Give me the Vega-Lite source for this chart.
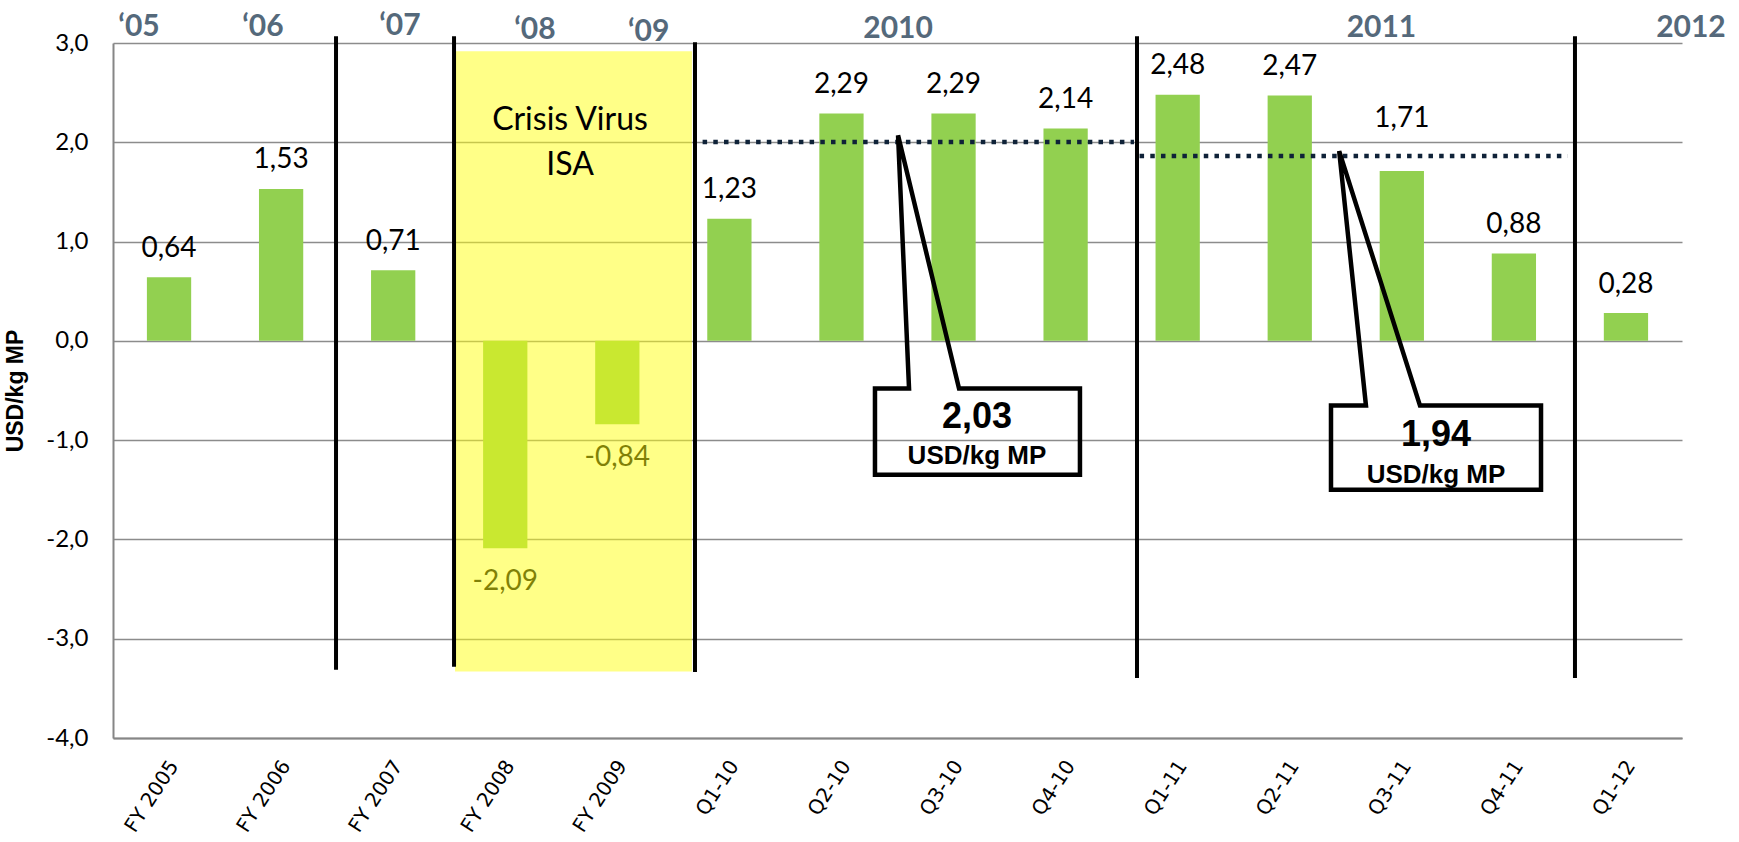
{
  "$schema": "https://vega.github.io/schema/vega-lite/v6.json",
  "width": 1569,
  "height": 695,
  "autosize": {"type": "none"},
  "padding": {"left": 113, "top": 43, "right": 57, "bottom": 104},
  "background": "white",
  "config": {
    "view": {"stroke": null},
    "locale": {"number": {"decimal": ",", "thousands": ".", "grouping": [3], "currency": ["", " €"], "minus": "-"}}
  },
  "datasets": {
    "bars": [
      {"cat": "FY 2005", "val": 0.64},
      {"cat": "FY 2006", "val": 1.53},
      {"cat": "FY 2007", "val": 0.71},
      {"cat": "FY 2008", "val": -2.09},
      {"cat": "FY 2009", "val": -0.84},
      {"cat": "Q1-10", "val": 1.23},
      {"cat": "Q2-10", "val": 2.29},
      {"cat": "Q3-10", "val": 2.29},
      {"cat": "Q4-10", "val": 2.14},
      {"cat": "Q1-11", "val": 2.48},
      {"cat": "Q2-11", "val": 2.47},
      {"cat": "Q3-11", "val": 1.71},
      {"cat": "Q4-11", "val": 0.88},
      {"cat": "Q1-12", "val": 0.28}
    ],
    "crisis": [{"u1": 3.052, "u2": 5.166, "v1": 2.916, "v2": -3.331}],
    "vlines": [
      {"u": 1.990, "v1": 3.068, "v2": -3.313},
      {"u": 3.043, "v1": 3.068, "v2": -3.283},
      {"u": 5.193, "v1": 3.007, "v2": -3.334},
      {"u": 9.137, "v1": 3.068, "v2": -3.395},
      {"u": 13.045, "v1": 3.068, "v2": -3.395}
    ],
    "avgs": [
      {"u1": 5.261, "u2": 9.110, "v": 2.002},
      {"u1": 9.160, "u2": 12.98, "v": 1.861}
    ],
    "callouts": [
      {"id": "a", "o": 0, "u": 7.7, "v": -1.348},
      {"id": "a", "o": 1, "u": 6.799, "v": -1.348},
      {"id": "a", "o": 2, "u": 6.799, "v": -0.481},
      {"id": "a", "o": 3, "u": 7.103, "v": -0.481},
      {"id": "a", "o": 4, "u": 7.005, "v": 2.07},
      {"id": "a", "o": 5, "u": 7.549, "v": -0.481},
      {"id": "a", "o": 6, "u": 8.628, "v": -0.481},
      {"id": "a", "o": 7, "u": 8.628, "v": -1.348},
      {"id": "a", "o": 8, "u": 7.7, "v": -1.348},
      {"id": "b", "o": 0, "u": 11.8, "v": -1.499},
      {"id": "b", "o": 1, "u": 10.868, "v": -1.499},
      {"id": "b", "o": 2, "u": 10.868, "v": -0.652},
      {"id": "b", "o": 3, "u": 11.18, "v": -0.652},
      {"id": "b", "o": 4, "u": 10.941, "v": 1.911},
      {"id": "b", "o": 5, "u": 11.662, "v": -0.652},
      {"id": "b", "o": 6, "u": 12.742, "v": -0.652},
      {"id": "b", "o": 7, "u": 12.742, "v": -1.499},
      {"id": "b", "o": 8, "u": 11.8, "v": -1.499}
    ],
    "callnum": [
      {"u": 7.709, "v": -0.874, "t": "2,03"},
      {"u": 11.805, "v": -1.055, "t": "1,94"}
    ],
    "callunit": [
      {"u": 7.709, "v": -1.236, "t": "USD/kg MP"},
      {"u": 11.805, "v": -1.428, "t": "USD/kg MP"}
    ],
    "crisistext": [
      {"u": 4.078, "v": 2.12, "t": "Crisis Virus"},
      {"u": 4.078, "v": 1.666, "t": "ISA"}
    ],
    "years": [
      {"u": 0.232, "v": 3.068, "t": "‘05"},
      {"u": 1.338, "v": 3.068, "t": "‘06"},
      {"u": 2.56, "v": 3.078, "t": "‘07"},
      {"u": 3.765, "v": 3.037, "t": "‘08"},
      {"u": 4.779, "v": 3.017, "t": "‘09"},
      {"u": 7.005, "v": 3.05, "t": "2010"},
      {"u": 11.318, "v": 3.057, "t": "2011"},
      {"u": 14.08, "v": 3.057, "t": "2012"}
    ]
  },
  "resolve": {"scale": {"x": "independent"}, "axis": {"x": "independent"}},
  "layer": [
    {
      "layer": [
        {
          "data": {"name": "bars"},
          "mark": {"type": "bar", "color": "#92D050"},
          "encoding": {
            "x": {
              "field": "cat", "type": "nominal", "sort": null,
              "scale": {"paddingInner": 0.605, "paddingOuter": 0.3025},
              "axis": {
                "title": null, "labelAngle": -57, "labelFont": "DejaVu Sans", "labelFontSize": 20,
                "labelColor": "#000000", "labelPadding": 24, "labelOffset": 5, "ticks": false,
                "domainColor": "#868686", "domainWidth": 2
              }
            },
            "y": {
              "field": "val", "type": "quantitative",
              "scale": {"domain": [-4, 3], "nice": false, "zero": false},
              "axis": {
                "title": "USD/kg MP", "titleFont": "Liberation Sans", "titleFontSize": 23, "titleFontWeight": "bold",
                "titleColor": "#000000", "titlePadding": 18,
                "values": [-4, -3, -2, -1, 0, 1, 2, 3], "format": ".1f",
                "labelFont": "Lato", "labelFontSize": 24, "labelColor": "#000000", "labelPadding": 25,
                "ticks": false, "grid": true, "gridColor": "#8C8C8C", "gridWidth": 1.6,
                "domainColor": "#868686", "domainWidth": 2
              }
            }
          }
        },
        {
          "data": {"name": "bars"},
          "transform": [{"filter": "datum.val >= 0 && datum.cat != 'Q3-11'"}],
          "mark": {"type": "text", "font": "Lato", "fontSize": 28, "color": "#000000", "baseline": "alphabetic", "dy": -20.5},
          "encoding": {
            "x": {"field": "cat", "type": "nominal", "sort": null},
            "y": {"field": "val", "type": "quantitative"},
            "text": {"field": "val", "type": "quantitative", "format": ".2f"}
          }
        },
        {
          "data": {"name": "bars"},
          "transform": [{"filter": "datum.cat == 'Q3-11'"}],
          "mark": {"type": "text", "font": "Lato", "fontSize": 28, "color": "#000000", "baseline": "alphabetic", "dy": -44.5},
          "encoding": {
            "x": {"field": "cat", "type": "nominal", "sort": null},
            "y": {"field": "val", "type": "quantitative"},
            "text": {"field": "val", "type": "quantitative", "format": ".2f"}
          }
        },
        {
          "data": {"name": "bars"},
          "transform": [{"filter": "datum.val < 0"}],
          "mark": {"type": "text", "font": "Lato", "fontSize": 28, "color": "#000000", "baseline": "alphabetic", "dy": 42},
          "encoding": {
            "x": {"field": "cat", "type": "nominal", "sort": null},
            "y": {"field": "val", "type": "quantitative"},
            "text": {"field": "val", "type": "quantitative", "format": ".2f"}
          }
        }
      ]
    },
    {
      "layer": [
        {
          "data": {"name": "crisis"},
          "mark": {"type": "rect", "color": "#FFFF10", "opacity": 0.5},
          "encoding": {
            "x": {"field": "u1", "type": "quantitative", "scale": {"domain": [0, 14], "nice": false, "zero": false}, "axis": null},
            "x2": {"field": "u2"},
            "y": {"field": "v1", "type": "quantitative"},
            "y2": {"field": "v2"}
          }
        },
        {
          "data": {"name": "vlines"},
          "mark": {"type": "rule", "color": "#000000", "strokeWidth": 4},
          "encoding": {
            "x": {"field": "u", "type": "quantitative"},
            "y": {"field": "v1", "type": "quantitative"},
            "y2": {"field": "v2"}
          }
        },
        {
          "data": {"name": "avgs"},
          "mark": {"type": "rule", "color": "#0F2238", "strokeWidth": 4.5, "strokeDash": [4.5, 6.2]},
          "encoding": {
            "x": {"field": "u1", "type": "quantitative"},
            "x2": {"field": "u2"},
            "y": {"field": "v", "type": "quantitative"}
          }
        },
        {
          "data": {"name": "callouts"},
          "mark": {"type": "line", "color": "#000000", "strokeWidth": 4.5, "strokeJoin": "miter"},
          "encoding": {
            "x": {"field": "u", "type": "quantitative"},
            "y": {"field": "v", "type": "quantitative"},
            "detail": {"field": "id", "type": "nominal"},
            "order": {"field": "o", "type": "quantitative"}
          }
        },
        {
          "data": {"name": "callnum"},
          "mark": {"type": "text", "font": "Liberation Sans", "fontWeight": "bold", "fontSize": 36, "color": "#000000", "baseline": "alphabetic", "align": "center"},
          "encoding": {
            "x": {"field": "u", "type": "quantitative"},
            "y": {"field": "v", "type": "quantitative"},
            "text": {"field": "t", "type": "nominal"}
          }
        },
        {
          "data": {"name": "callunit"},
          "mark": {"type": "text", "font": "Liberation Sans", "fontWeight": "bold", "fontSize": 26, "color": "#000000", "baseline": "alphabetic", "align": "center"},
          "encoding": {
            "x": {"field": "u", "type": "quantitative"},
            "y": {"field": "v", "type": "quantitative"},
            "text": {"field": "t", "type": "nominal"}
          }
        },
        {
          "data": {"name": "crisistext"},
          "mark": {"type": "text", "font": "Lato", "fontSize": 32, "color": "#000000", "baseline": "alphabetic", "align": "center"},
          "encoding": {
            "x": {"field": "u", "type": "quantitative"},
            "y": {"field": "v", "type": "quantitative"},
            "text": {"field": "t", "type": "nominal"}
          }
        },
        {
          "data": {"name": "years"},
          "mark": {"type": "text", "font": "Lato", "fontWeight": "bold", "fontSize": 30, "color": "#55697B", "baseline": "alphabetic", "align": "center"},
          "encoding": {
            "x": {"field": "u", "type": "quantitative"},
            "y": {"field": "v", "type": "quantitative"},
            "text": {"field": "t", "type": "nominal"}
          }
        }
      ]
    }
  ]
}
